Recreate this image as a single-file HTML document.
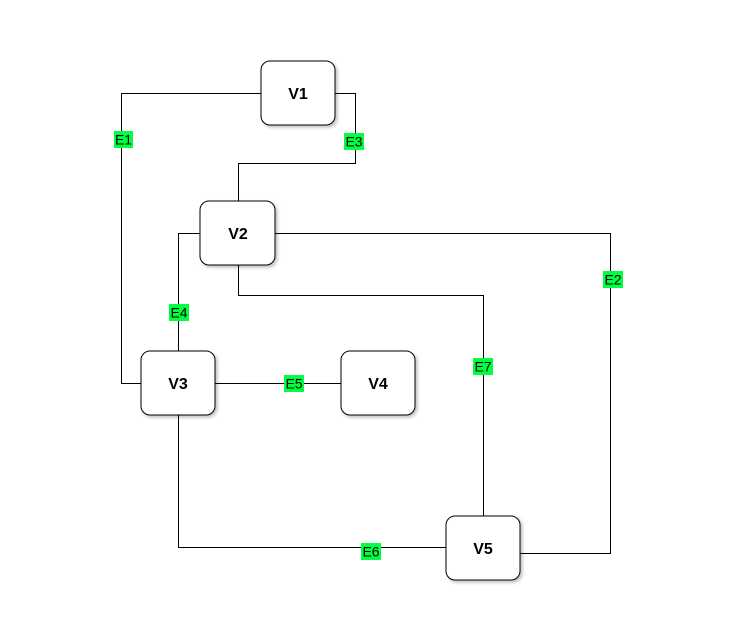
<!DOCTYPE html>
<html><head><meta charset="utf-8"><style>
body{margin:0;background:#fff}
svg{display:block}
text{font-family:"Liberation Sans",sans-serif}
</style></head><body>
<svg width="732" height="617" viewBox="0 0 732 617" xmlns="http://www.w3.org/2000/svg">
<defs>
<filter id="sh" x="-20%" y="-20%" width="150%" height="150%"><feDropShadow dx="2" dy="2" stdDeviation="1.5" flood-color="#000" flood-opacity="0.25"/></filter>
</defs>
<g fill="none" stroke="#000" stroke-width="1">
<path d="M261.5 93.5H121.5V383.5H141"/>
<path d="M335 93.5H355.5V163.5H238.5V201"/>
<path d="M275 233.5H610.5V553.5H520"/>
<path d="M200 233.5H178.5V351"/>
<path d="M238.5 265V295.5H483.5V516"/>
<path d="M215 383.5H341"/>
<path d="M178.5 415V547.5H446"/>
</g>
<g filter="url(#sh)" fill="#fff" stroke="#000" stroke-width="1">
<rect x="261" y="61" width="74" height="64" rx="9"/>
<rect x="200" y="201" width="75" height="64" rx="9"/>
<rect x="141" y="351" width="74" height="64" rx="9"/>
<rect x="341" y="351" width="74" height="64" rx="9"/>
<rect x="446" y="516" width="74" height="64" rx="9"/>
</g>
<g font-size="16" font-weight="bold" text-anchor="middle" fill="#000">
<text x="298" y="99">V1</text>
<text x="238" y="239">V2</text>
<text x="178" y="389">V3</text>
<text x="378" y="389">V4</text>
<text x="483" y="554">V5</text>
</g>
<g fill="#00ff40">
<rect x="114" y="131" width="19" height="17"/>
<rect x="344" y="133" width="20" height="17"/>
<rect x="603" y="271" width="20" height="17"/>
<rect x="169" y="304" width="20" height="17"/>
<rect x="473" y="358" width="20" height="17"/>
<rect x="284" y="375" width="20" height="17"/>
<rect x="361" y="543" width="20" height="17"/>
</g>
<g font-size="14" text-anchor="middle" fill="#000">
<text x="123.5" y="144.5">E1</text>
<text x="354" y="146.5">E3</text>
<text x="613" y="284.5">E2</text>
<text x="179" y="317.5">E4</text>
<text x="483" y="371.5">E7</text>
<text x="294" y="388.5">E5</text>
<text x="371" y="556.5">E6</text>
</g>
</svg>
</body></html>
